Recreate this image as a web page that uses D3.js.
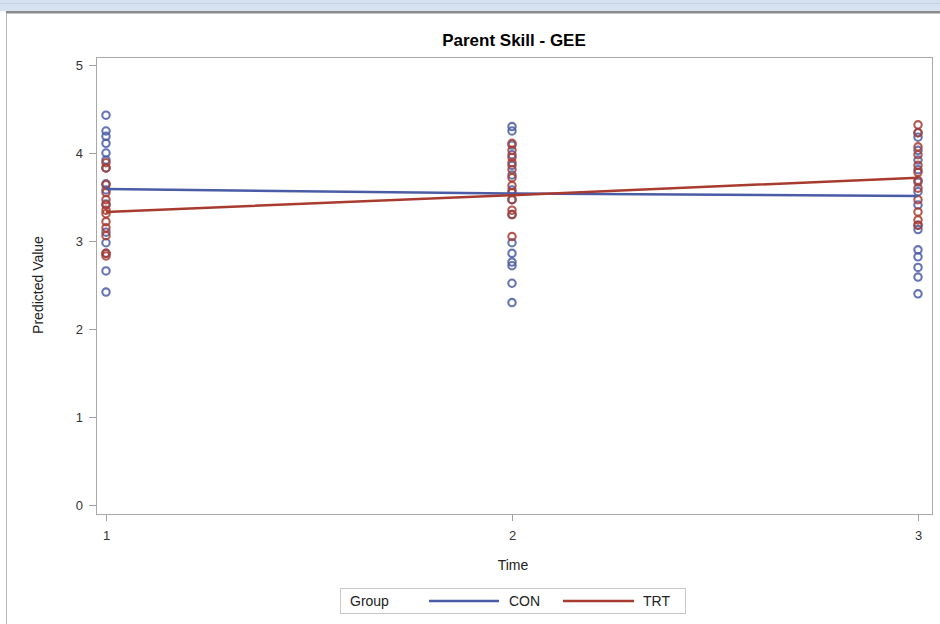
<!DOCTYPE html>
<html>
<head>
<meta charset="utf-8">
<script src="https://cdn.jsdelivr.net/npm/d3@7/dist/d3.min.js"></script>
<style>
  html, body { margin: 0; padding: 0; background: #fff; }
  svg { display: block; font-family: "Liberation Sans", Arial, sans-serif; }
</style>
</head>
<body>
<svg id="chart" width="940" height="624"></svg>
<script>
// Time points on the x axis
const times = [1, 2, 3];
const yTicks = [0, 1, 2, 3, 4, 5];

// Observed predicted values per time point, control group
const conT1 = [4.43, 4.25, 4.19, 4.11, 4.00, 3.92, 3.83, 3.65, 3.58, 3.42, 3.10, 2.98, 2.86, 2.66, 2.42];
const conT2 = [4.30, 4.25, 4.09, 3.98, 3.86, 3.75, 3.58, 3.47, 3.30, 2.98, 2.86, 2.76, 2.72, 2.52, 2.30];
const conT3 = [4.23, 4.18, 4.03, 3.92, 3.81, 3.67, 3.56, 3.41, 3.18, 3.13, 2.90, 2.82, 2.70, 2.59, 2.40];

// Observed predicted values per time point, treatment group
const trtT1 = [3.89, 3.83, 3.64, 3.55, 3.47, 3.41, 3.35, 3.31, 3.22, 3.15, 3.06, 2.86, 2.83];
const trtT2 = [4.11, 4.03, 3.95, 3.89, 3.81, 3.72, 3.63, 3.55, 3.47, 3.35, 3.30, 3.05];
const trtT3 = [4.32, 4.23, 4.07, 3.98, 3.86, 3.78, 3.69, 3.60, 3.47, 3.33, 3.24, 3.18];

// GEE fitted means per group
const conFit = [3.59, 3.54, 3.51];
const trtFit = [3.33, 3.52, 3.72];

const groups = [
  { name: "CON", color: "#4a5ca6", points: [conT1, conT2, conT3], fit: conFit },
  { name: "TRT", color: "#a83b30", points: [trtT1, trtT2, trtT3], fit: trtFit }
];

const svg = d3.select("#chart");

// Window chrome: header band and border lines
svg.append("rect").attr("x", 0).attr("y", 0).attr("width", 940).attr("height", 11).attr("fill", "#d6e2ef");
svg.append("rect").attr("x", 0).attr("y", 3).attr("width", 940).attr("height", 1).attr("fill", "#c4d2e3");
svg.append("rect").attr("x", 6).attr("y", 11).attr("width", 934).attr("height", 2).attr("fill", "#8a8a8a");
svg.append("rect").attr("x", 6).attr("y", 13).attr("width", 934).attr("height", 1).attr("fill", "#c8c8c8");
svg.append("rect").attr("x", 6).attr("y", 13).attr("width", 1).attr("height", 611).attr("fill", "#b5b5b5");

const frame = { left: 96, right: 932, top: 57, bottom: 514 };

const x = d3.scaleLinear().domain([1, 3]).range([106, 918]);
const y = d3.scaleLinear().domain([0, 5]).range([505, 65]);

// Title
svg.append("text")
  .attr("x", 514).attr("y", 46)
  .attr("text-anchor", "middle")
  .attr("font-size", 17).attr("font-weight", "bold").attr("fill", "#000")
  .text("Parent Skill - GEE");

// Y axis
const yAxis = svg.append("g")
  .attr("transform", `translate(${frame.left},0)`)
  .call(d3.axisLeft(y).tickValues(yTicks).tickSize(7).tickPadding(6).tickFormat(d3.format("d")));
yAxis.select(".domain").remove();
yAxis.selectAll(".tick line").attr("stroke", "#a0a0a0");
yAxis.selectAll(".tick text").attr("font-size", 13).attr("fill", "#333").attr("font-family", "Liberation Sans, Arial, sans-serif");

// X axis
const xAxis = svg.append("g")
  .attr("transform", `translate(0,${frame.bottom})`)
  .call(d3.axisBottom(x).tickValues(times).tickSize(7).tickPadding(10).tickFormat(d3.format("d")));
xAxis.select(".domain").remove();
xAxis.selectAll(".tick line").attr("stroke", "#a0a0a0");
xAxis.selectAll(".tick text").attr("font-size", 13).attr("fill", "#333").attr("font-family", "Liberation Sans, Arial, sans-serif");

// Plot frame
svg.append("rect")
  .attr("x", frame.left + 0.5).attr("y", frame.top + 0.5)
  .attr("width", frame.right - frame.left).attr("height", frame.bottom - frame.top)
  .attr("fill", "none").attr("stroke", "#a8a8a8").attr("stroke-width", 1);

// Axis titles
svg.append("text")
  .attr("x", 513).attr("y", 570)
  .attr("text-anchor", "middle").attr("font-size", 14).attr("fill", "#222")
  .text("Time");
svg.append("text")
  .attr("transform", "translate(43,285) rotate(-90)")
  .attr("text-anchor", "middle").attr("font-size", 14).attr("fill", "#222")
  .text("Predicted Value");

// Scatter of observed predictions (open circles)
groups.forEach(g => {
  g.points.forEach((vals, i) => {
    svg.append("g").selectAll("circle")
      .data(vals)
      .join("circle")
      .attr("cx", x(times[i]))
      .attr("cy", d => y(d))
      .attr("r", 3.7)
      .attr("fill", "none")
      .attr("stroke", g.color)
      .attr("stroke-width", 2.1)
      .attr("stroke-opacity", 0.85);
  });
});

// Fitted mean lines
const line = d3.line().x((d, i) => x(times[i])).y(d => y(d));
groups.forEach(g => {
  svg.append("path")
    .datum(g.fit)
    .attr("d", line)
    .attr("fill", "none")
    .attr("stroke", g.color)
    .attr("stroke-width", 2.5);
});

// Legend
const legend = svg.append("g");
legend.append("rect")
  .attr("x", 340.5).attr("y", 588.5).attr("width", 345).attr("height", 25)
  .attr("fill", "#fff").attr("stroke", "#c8c8c8");
legend.append("text")
  .attr("x", 350).attr("y", 606).attr("font-size", 14).attr("fill", "#222").text("Group");
const legendItems = [
  { g: groups[0], x1: 429, x2: 499, tx: 509 },
  { g: groups[1], x1: 563, x2: 634, tx: 643 }
];
legendItems.forEach(it => {
  legend.append("line")
    .attr("x1", it.x1).attr("x2", it.x2).attr("y1", 601).attr("y2", 601)
    .attr("stroke", it.g.color).attr("stroke-width", 2.5);
  legend.append("text")
    .attr("x", it.tx).attr("y", 606).attr("font-size", 14).attr("fill", "#222").text(it.g.name);
});
</script>
</body>
</html>
